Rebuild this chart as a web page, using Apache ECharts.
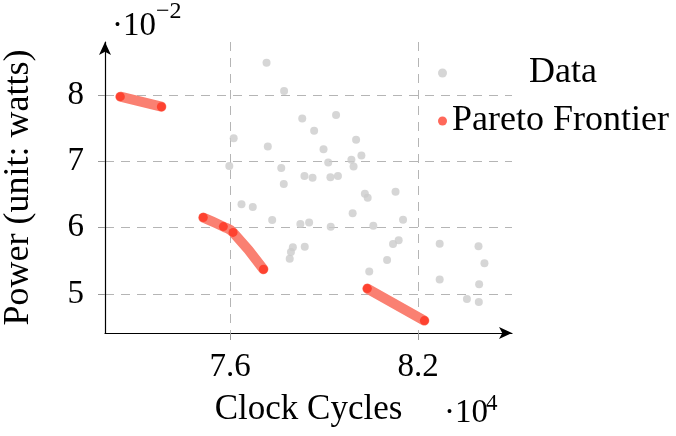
<!DOCTYPE html>
<html><head><meta charset="utf-8">
<script src="https://cdn.jsdelivr.net/npm/echarts@6/dist/echarts.min.js"></script>
<style>html,body{margin:0;padding:0;background:#fff}#c{width:676px;height:436px}</style>
</head><body><div id="c"></div>
<script>
// x in units of 10^4 clock cycles, y in units of 10^-2 watts
const dataX = [7.716,7.772,7.830,7.938,7.868,7.611,7.720,8.002,7.898,8.019,7.597,7.763,7.913,7.987,7.994,7.771,7.837,7.863,7.920,7.944,8.030,8.039,8.128,7.636,7.672,7.991,7.734,7.824,7.852,7.921,8.057,8.152,7.800,7.794,7.790,7.838,8.120,8.138,8.101,8.044,8.269,8.269,8.393,8.412,8.395,8.356,8.394];
const dataY = [8.487,8.060,7.645,7.698,7.462,7.347,7.223,7.327,7.181,7.087,6.930,6.899,6.982,7.022,6.920,6.656,6.778,6.751,6.760,6.778,6.512,6.452,6.540,6.351,6.310,6.216,6.115,6.055,6.076,6.012,6.027,6.118,5.704,5.632,5.529,5.713,5.754,5.811,5.512,5.336,5.755,5.218,5.720,5.462,5.146,4.924,4.876];
const front1X = [7.249, 7.380];
const front1Y = [7.975, 7.824];
const front2X = [7.514, 7.578, 7.609, 7.706];
const front2Y = [6.152, 6.015, 5.927, 5.372];
const front3X = [8.038, 8.220];
const front3Y = [5.080, 4.597];
const xTicks = [7.6, 8.2];
const yTicks = [5, 6, 7, 8];
const xTickLabels = ['7.6', '8.2'];
const yTickLabels = ['5', '6', '7', '8'];

const FONT = '"Liberation Serif", "DejaVu Serif", serif';
const zip = (xs, ys) => xs.map((x, i) => [x, ys[i]]);
const chart = echarts.init(document.getElementById('c'), null, {renderer: 'canvas'});
const frontSeries = [[front1X, front1Y], [front2X, front2Y], [front3X, front3Y]].map(([xs, ys]) => ({
  name: 'Pareto Frontier', type: 'line', data: zip(xs, ys), smooth: true,
  symbol: 'circle', symbolSize: 9, showSymbol: true, z: 3,
  lineStyle: {color: '#fa8072', width: 10, cap: 'round', join: 'round'},
  itemStyle: {color: 'rgba(255,40,20,0.7)'}
}));
chart.setOption({
  animation: false,
  grid: {left: 105, right: 164, top: 42, bottom: 103, containLabel: false, outerBoundsMode: 'none'},
  legend: {
    orient: 'vertical', left: 433, top: 50, itemGap: 12, itemWidth: 9, itemHeight: 9,
    data: [{name: 'Data', icon: 'circle'}, {name: 'Pareto Frontier', icon: 'circle'}],
    formatter: n => n === 'Data' ? '{c|Data}' : '{n|Pareto Frontier}',
    textStyle: {fontFamily: FONT, fontSize: 36, color: '#000', lineHeight: 30,
      rich: {c: {width: 222, align: 'center', fontFamily: FONT, fontSize: 36, color: '#000', lineHeight: 30},
             n: {fontFamily: FONT, fontSize: 36, color: '#000', lineHeight: 30}}}
  },
  xAxis: {
    type: 'value', min: 7.2, max: 8.5,
    name: 'Clock Cycles', nameLocation: 'middle', nameGap: 59,
    nameTextStyle: {fontFamily: FONT, fontSize: 35, color: '#000'},
    axisLine: {show: true, onZero: false, symbol: ['none', 'arrow'], symbolSize: [9, 13], lineStyle: {color: '#000', width: 1.2}},
    axisTick: {show: true, customValues: xTicks, length: 7, lineStyle: {color: '#999'}},
    axisLabel: {customValues: xTicks, formatter: v => xTickLabels[xTicks.indexOf(+v)] ?? '', margin: 18, fontFamily: FONT, fontSize: 33, color: '#000'},
    splitLine: {show: true, lineStyle: {type: [9, 7], color: '#b5b5b5', width: 1}}
  },
  yAxis: {
    type: 'value', min: 4.41, max: 8.8,
    name: 'Power (unit: watts)', nameLocation: 'middle', nameGap: 68,
    nameTextStyle: {fontFamily: FONT, fontSize: 36, color: '#000'},
    axisLine: {show: true, onZero: false, symbol: ['none', 'arrow'], symbolSize: [9, 13], lineStyle: {color: '#000', width: 1.2}},
    axisTick: {show: true, customValues: yTicks, length: 7, lineStyle: {color: '#999'}},
    axisLabel: {customValues: yTicks, formatter: v => yTickLabels[yTicks.indexOf(+v)] ?? '', margin: 21, fontFamily: FONT, fontSize: 33, color: '#000'},
    splitLine: {show: true, lineStyle: {type: [9, 7], color: '#b5b5b5', width: 1}}
  },
  graphic: [
    {type: 'text', left: 112, top: 10, style: {text: '·10', fontFamily: FONT, fontSize: 33, fill: '#000'}},
    {type: 'text', left: 156, top: 0, style: {text: '−2', fontFamily: FONT, fontSize: 24, fill: '#000'}},
    {type: 'text', left: 444, top: 397, style: {text: '·10', fontFamily: FONT, fontSize: 33, fill: '#000'}},
    {type: 'text', left: 486, top: 392, style: {text: '4', fontFamily: FONT, fontSize: 23, fill: '#000'}}
  ],
  series: [
    {name: 'Data', type: 'scatter', data: zip(dataX, dataY), symbolSize: 8, itemStyle: {color: '#cccccc'}, z: 2},
    ...frontSeries
  ]
});
</script></body></html>
